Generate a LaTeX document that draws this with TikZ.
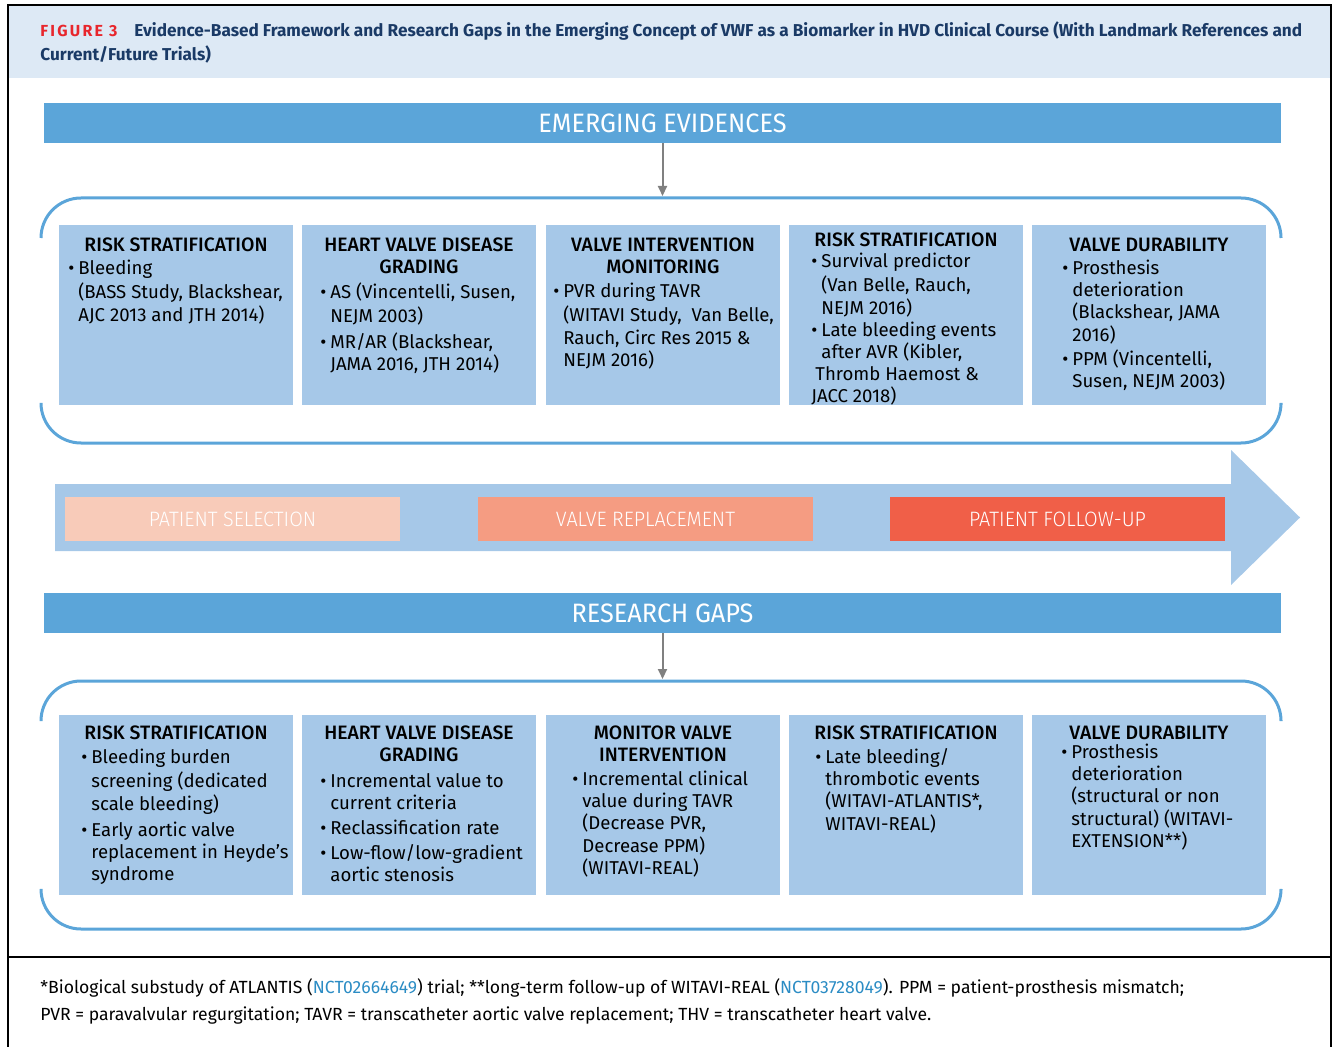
\documentclass[tikz,border=0pt]{standalone}
\usepackage{fontspec}
\setmainfont{Fira Sans}
\newfontfamily\medfont{Fira Sans Medium}
\newfontfamily\lightfont{Fira Sans Light}[FakeStretch=0.95]
\newfontfamily\condfont{Fira Sans}[FakeStretch=0.95]
\usetikzlibrary{arrows.meta}
\definecolor{hdrbg}{HTML}{DDE9F5}
\definecolor{figred}{HTML}{E8262C}
\definecolor{navy}{HTML}{1A3A66}
\definecolor{bandblue}{HTML}{5BA5D9}
\definecolor{boxblue}{HTML}{A6C8E8}
\definecolor{peach}{HTML}{F8CBB9}
\definecolor{salmon}{HTML}{F59C82}
\definecolor{redorange}{HTML}{F05F48}
\definecolor{linkblue}{HTML}{2B8CC4}
\definecolor{arrgray}{HTML}{808080}
\newcommand\bi{\makebox[5pt][l]{\textbullet}}
\newcommand\ci{\hspace*{5pt}}
\tikzset{
  band/.style={fill=bandblue, text=white, inner sep=0, minimum width=618.5pt, minimum height=20pt, font=\condfont\fontsize{13.3}{15}\selectfont},
  cbox/.style={fill=boxblue, inner sep=0, minimum width=117pt, minimum height=90pt},
  phase/.style={inner sep=0, minimum width=167.5pt, minimum height=22pt, text=white, font=\lightfont\fontsize{10.4}{12}\selectfont},
  head/.style={anchor=north, align=center, inner sep=0, font=\medfont\fontsize{9.7}{11.1}\selectfont},
  body/.style={anchor=north west, align=left, inner sep=0, font=\fontsize{9.3}{11.1}\selectfont},
  bracket/.style={draw=bandblue, line width=1.5pt, rounded corners=20pt},
  garrow/.style={draw=arrgray, line width=1pt, -{Triangle[length=5pt,width=4.5pt]}, arrgray},
  foot/.style={anchor=base west, inner sep=0, font=\fontsize{8.8}{10}\selectfont}
}
\begin{document}
\begin{tikzpicture}[x=0.5pt,y=-0.5pt]
\useasboundingbox (0,0) rectangle (1336,1047);
% frame and header
\fill[hdrbg] (9,6) rectangle (1330,78);
\draw[black, line width=1pt] (8,1047) -- (8,5) -- (1331,5) -- (1331,1047);
\draw[black, line width=1pt] (8,957) -- (1331,957);
\node[anchor=base west, inner sep=0, text=figred, font=\bfseries\fontsize{8}{9}\selectfont\addfontfeature{LetterSpace=14}] (figlbl) at (40,37) {FIGURE 3};
\node[anchor=base west, inner sep=0, text=navy, font=\bfseries\fontsize{8.6}{10}\selectfont] (title1) at (134,37) {Evidence-Based Framework and Research Gaps in the Emerging Concept of VWF as a Biomarker in HVD Clinical Course (With Landmark References and};
\node[anchor=base west, inner sep=0, text=navy, font=\bfseries\fontsize{8.6}{10}\selectfont] (title2) at (40,61) {Current/Future Trials)};

% top band
\node[band] (eb) at (662.5,123) {EMERGING EVIDENCES};
\coordinate (ta) at (662.5,196);
\draw[garrow] (eb.south) -- (ta);
\draw[bracket] (41,238) -- (41,198) -- (1281,198) -- (1281,238);
\draw[bracket] (41,405) -- (41,443) -- (1281,443) -- (1281,405);

\node[cbox] (t1) at (176,315) {};
\node[cbox] (t2) at (419,315) {};
\node[cbox] (t3) at (663,315) {};
\node[cbox] (t4) at (906,315) {};
\node[cbox] (t5) at (1149,315) {};

\node[head] (th1) at (176,235.5) {\strut RISK STRATIFICATION};
\node[head] (th2) at (419,235.5) {\strut HEART VALVE DISEASE\\GRADING};
\node[head] (th3) at (663,235.5) {\strut VALVE INTERVENTION\\MONITORING};
\node[head] (th4) at (906,230.5) {\strut RISK STRATIFICATION};
\node[head] (th5) at (1149,235.5) {\strut VALVE DURABILITY};

\node[body] (tb1) at (68,258.5) {\strut\bi Bleeding\\ \ci(BASS Study, Blackshear,\\ \ci AJC 2013 and JTH 2014)};
\node[body] (tb2) at (320,282.5) {\strut\bi AS (Vincentelli, Susen,\\ \ci NEJM 2003)\\[1.5pt] \bi MR/AR (Blackshear,\\ \ci JAMA 2016, JTH 2014)};
\node[body] (tb3) at (553,281.5) {\strut\bi PVR during TAVR\\ \ci(WITAVI Study,\ \ Van Belle,\\ \ci Rauch, Circ Res 2015 \&\\ \ci NEJM 2016)};
\node[body] (tb4) at (811,251.5) {\strut\bi Survival predictor\\ \ci(Van Belle, Rauch,\\ \ci NEJM 2016)\\ \bi Late bleeding events\\ \ci after AVR (Kibler,\\ \hspace*{2pt}Thromb Haemost \&\\ JACC 2018)};
\node[body] (tb5) at (1062,258.5) {\strut\bi Prosthesis\\ \ci deterioration\\ \ci(Blackshear, JAMA\\ \ci 2016)\\[1pt] \bi PPM (Vincentelli,\\ \ci Susen, NEJM 2003)};

% timeline arrow
\fill[boxblue] (55,484) -- (1231,484) -- (1231,450) -- (1300,517.5) -- (1231,585) -- (1231,551) -- (55,551) -- cycle;
\node[phase, fill=peach] (ps) at (232.5,519) {PATIENT SELECTION};
\node[phase, fill=salmon] (vr) at (645.5,519) {VALVE REPLACEMENT};
\node[phase, fill=redorange] (pf) at (1057.5,519) {PATIENT FOLLOW-UP};

% bottom band
\node[band] (rg) at (662.5,613) {RESEARCH GAPS};
\coordinate (ba) at (662.5,679);
\draw[garrow] (rg.south) -- (ba);
\draw[bracket] (41,720) -- (41,681) -- (1281,681) -- (1281,720);
\draw[bracket] (41,890) -- (41,929) -- (1281,929) -- (1281,890);

\node[cbox] (b1) at (176,805) {};
\node[cbox] (b2) at (419,805) {};
\node[cbox] (b3) at (663,805) {};
\node[cbox] (b4) at (906,805) {};
\node[cbox] (b5) at (1149,805) {};

\node[head] (bh1) at (176,723.5) {\strut RISK STRATIFICATION};
\node[head] (bh2) at (419,723.5) {\strut HEART VALVE DISEASE\\GRADING};
\node[head] (bh3) at (663,723.5) {\strut MONITOR VALVE\\INTERVENTION};
\node[head] (bh4) at (906,723.5) {\strut RISK STRATIFICATION};
\node[head] (bh5) at (1149,723.5) {\strut VALVE DURABILITY};

\node[body] (bb1) at (81,747.5) {\strut\bi Bleeding burden\\ \ci screening (dedicated\\ \ci scale bleeding)\\[2pt] \bi Early aortic valve\\ \ci replacement in Heyde’s\\ \ci syndrome};
\node[body] (bb2) at (320,771.5) {\strut\bi Incremental value to\\ \ci current criteria\\[1.5pt] \bi Reclassification rate\\[1pt] \bi Low-flow/low-gradient\\ \ci aortic stenosis};
\node[body] (bb3) at (572,769.5) {\strut\bi Incremental clinical\\ \ci value during TAVR\\ \ci(Decrease PVR,\\ \ci Decrease PPM)\\ \ci(WITAVI-REAL)};
\node[body] (bb4) at (815,747.5) {\strut\bi Late bleeding/\\ \ci thrombotic events\\ \ci(WITAVI-ATLANTIS*,\\ \ci WITAVI-REAL)};
\node[body] (bb5) at (1061,742.5) {\strut\bi Prosthesis\\ \ci deterioration\\ \ci(structural or non\\ \ci structural) (WITAVI-\\ \ci EXTENSION**)};

% footnote
\node[foot] (fn1) at (40,993) {*Biological substudy of ATLANTIS (\textcolor{linkblue}{NCT02664649}) trial; **long-term follow-up of WITAVI-REAL (\textcolor{linkblue}{NCT03728049}). PPM = patient-prosthesis mismatch;};
\node[foot] (fn2) at (40,1020) {PVR = paravalvular regurgitation; TAVR = transcatheter aortic valve replacement; THV = transcatheter heart valve.};
\end{tikzpicture}
\end{document}
